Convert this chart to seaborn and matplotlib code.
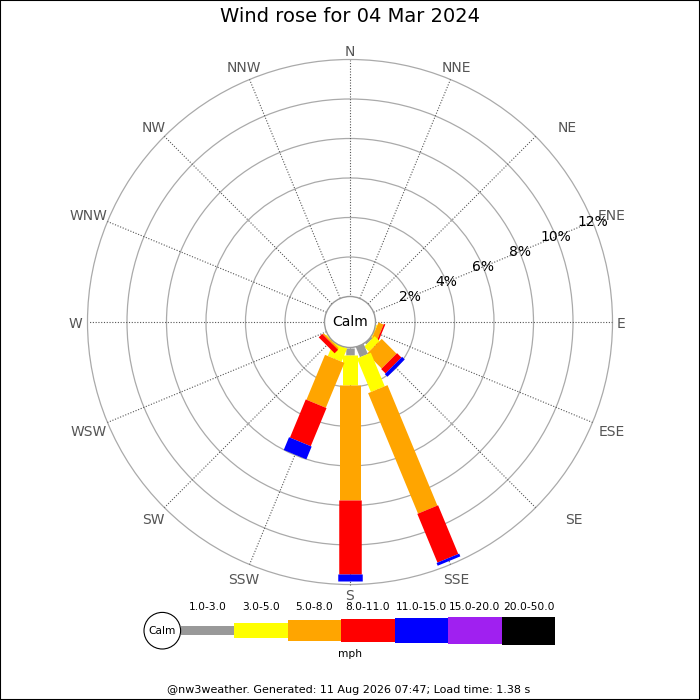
import numpy as np
import matplotlib
matplotlib.use("Agg")
import matplotlib.pyplot as plt
from matplotlib.patches import Circle, Rectangle
import seaborn as sns

# wind rose data: percent of time per direction and speed band
directions = ["N", "NNE", "NE", "ENE", "E", "ESE", "SE", "SSE",
              "S", "SSW", "SW", "WSW", "W", "WNW", "NW", "NNW"]
speed_bands = ["1.0-3.0", "3.0-5.0", "5.0-8.0", "8.0-11.0",
               "11.0-15.0", "15.0-20.0", "20.0-50.0"]
pct_1_3 = [0, 0, 0, 0, 0, 0, 0.10, 0.55, 0.38, 0, 0, 0, 0, 0, 0, 0]
pct_3_5 = [0, 0, 0, 0, 0, 0.05, 0.35, 1.84, 1.52, 0.73, 0.05, 0, 0, 0, 0, 0]
pct_5_8 = [0, 0, 0, 0, 0, 0.28, 1.06, 6.60, 5.82, 2.46, 0.08, 0, 0, 0, 0, 0]
pct_8_11 = [0, 0, 0, 0, 0, 0.08, 0.31, 2.67, 3.75, 2.09, 0.25, 0, 0, 0, 0, 0]
pct_11_15 = [0, 0, 0, 0, 0, 0, 0.19, 0.15, 0.34, 0.70, 0, 0, 0, 0, 0, 0]
pct_15_20 = [0] * 16
pct_20_50 = [0] * 16
ring_ticks = [2, 4, 6, 8, 10, 12]

title = "Wind rose for 04 Mar 2024"
footer = "@nw3weather. Generated: 11 Aug 2026 07:47; Load time: 1.38 s"

band_colors = ["#999999", "#ffff00", "#ffa500", "#ff0000",
               "#0000ff", "#a020f0", "#000000"]
band_px = [8.5, 15, 21, 22.5, 24.5, 26.5, 28]   # leg thickness per band
label_shift = {"NE": 21, "SE": 28, "W": -3}      # extra horizontal label shift, px

sns.set_theme(style="white")
plt.rcParams["font.family"] = ["DejaVu Sans"]
plt.rcParams["text.color"] = "black"

PX = 19.75          # pixels per percent
R0 = 25.5 / PX      # calm circle radius, in percent units
RMAX = R0 + ring_ticks[-1]

fig = plt.figure(figsize=(7, 7), dpi=100)
fig.patch.set_facecolor("white")
ax = fig.add_axes([0, 0, 1, 1])
ax.set_xlim(-350 / PX, 350 / PX)
ax.set_ylim(-378 / PX, 322 / PX)
ax.set_aspect("equal")
ax.axis("off")

bearings = np.deg2rad(np.arange(16) * 22.5)

# rings
for t in ring_ticks:
    ax.add_patch(Circle((0, 0), R0 + t, fill=False, ec="#aaaaaa", lw=0.9, zorder=1))

# spokes
for b in bearings:
    ax.plot([R0 * np.sin(b), RMAX * np.sin(b)], [R0 * np.cos(b), RMAX * np.cos(b)],
            color="#555555", lw=0.8, ls=(0, (1, 1.5)), zorder=2)

# direction labels
for name, b in zip(directions, bearings):
    hw = 5.6 * len(name)
    r = (RMAX * PX + 3 + hw * abs(np.sin(b)) + 6 * abs(np.cos(b))) / PX
    ax.text(r * np.sin(b) + label_shift.get(name, 0) / PX, r * np.cos(b) - 2 / PX,
            name, ha="center", va="center", fontsize=10, color="#555555")

# percent labels along ENE
lab_b = bearings[3]
for t in ring_ticks:
    ax.text((R0 + t) * np.sin(lab_b), (R0 + t) * np.cos(lab_b), f"{t}%",
            ha="center", va="center", fontsize=10, color="black", zorder=6)

# legs
bands = [pct_1_3, pct_3_5, pct_5_8, pct_8_11, pct_11_15, pct_15_20, pct_20_50]
for i, b in enumerate(bearings):
    cum = R0
    for j, vals in enumerate(bands):
        v = vals[i]
        if v <= 0:
            continue
        ax.plot([cum * np.sin(b), (cum + v) * np.sin(b)],
                [cum * np.cos(b), (cum + v) * np.cos(b)],
                color=band_colors[j], lw=band_px[j] * 0.72,
                solid_capstyle="butt", zorder=4)
        cum += v

# calm circle
ax.add_patch(Circle((0, 0), R0, fc="white", ec="#999999", lw=1, zorder=5))
ax.text(0, 0, "Calm", ha="center", va="center", fontsize=10, zorder=6)

# legend (pixel coordinates)
lg = fig.add_axes([140 / 700, 38 / 700, 420 / 700, 62 / 700])
lg.set_xlim(140, 560)
lg.set_ylim(662, 600)
lg.axis("off")
seg_w = 53.5
x_start = 180.7
yc = 630.7
for j, name in enumerate(speed_bands):
    h = band_px[j]
    xc = x_start + seg_w * (j + 0.5)
    lg.bar(xc, h, bottom=yc - h / 2, width=seg_w, color=band_colors[j], linewidth=0)
    lg.text(xc, 607, name, ha="center", va="center", fontsize=7.7)
lg.add_patch(Circle((162.3, yc), 18.3, fc="white", ec="black", lw=0.8))
lg.text(162.3, yc, "Calm", ha="center", va="center", fontsize=7.7)
lg.text(350, 654, "mph", ha="center", va="center", fontsize=7.7)

fig.text(0.5, 1 - 17 / 700, title, ha="center", va="center", fontsize=14)
fig.text(349 / 700, 1 - 690 / 700, footer, ha="center", va="center", fontsize=8)
fig.patches.append(Rectangle((0, 0), 1, 1, transform=fig.transFigure,
                             fill=False, ec="black", lw=1.5))

fig.savefig("out.png", dpi=100)
